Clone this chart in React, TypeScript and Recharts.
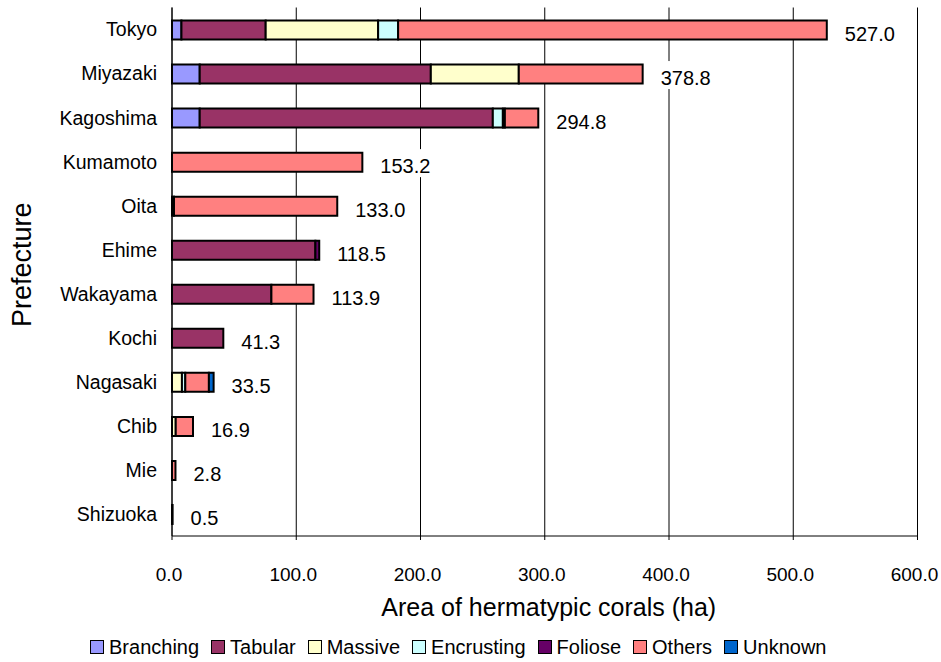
import React from "react";
import { Bar, BarChart, CartesianGrid, Label, LabelList, Legend, XAxis, YAxis } from "recharts";

// prefectures, top to bottom
const prefectures = ["Tokyo", "Miyazaki", "Kagoshima", "Kumamoto", "Oita", "Ehime", "Wakayama", "Kochi", "Nagasaki", "Chib", "Mie", "Shizuoka"];

// area (ha) by coral growth form
const branching = [7.6, 22.3, 22.3, 0, 0, 0, 0, 0, 0, 0, 0, 0];
const tabular = [67.8, 186.0, 235.9, 0, 0, 115.4, 80.0, 41.3, 0, 0, 0, 0];
const massive = [90.5, 70.8, 0, 0, 1.6, 0, 0, 0, 8.0, 3.0, 0, 0];
const encrusting = [16.1, 0, 8.1, 0, 0, 0, 0, 0, 2.7, 0, 0, 0];
const foliose = [0, 0, 1.6, 0, 0, 3.1, 0, 0, 0, 0, 0, 0];
const others = [345.0, 99.7, 26.9, 153.2, 131.4, 0, 33.9, 0, 19.0, 13.9, 2.8, 0.5];
const unknown = [0, 0, 0, 0, 0, 0, 0, 0, 3.8, 0, 0, 0];

// totals printed next to each bar
const totals = [527.0, 378.8, 294.8, 153.2, 133.0, 118.5, 113.9, 41.3, 33.5, 16.9, 2.8, 0.5];

const xTicks = [0, 100, 200, 300, 400, 500, 600];
// category boundaries for the small tick marks on the vertical axis
const boundaryTicks = [0, 1, 2, 3, 4, 5, 6, 7, 8, 9, 10, 11, 12];

const SERIES = [
  { key: "branching", name: "Branching", color: "#9999FF", values: branching },
  { key: "tabular", name: "Tabular", color: "#993366", values: tabular },
  { key: "massive", name: "Massive", color: "#FFFFCC", values: massive },
  { key: "encrusting", name: "Encrusting", color: "#CCFFFF", values: encrusting },
  { key: "foliose", name: "Foliose", color: "#660066", values: foliose },
  { key: "others", name: "Others", color: "#FF8080", values: others },
  { key: "unknown", name: "Unknown", color: "#0066CC", values: unknown },
];

const FONT = "'Liberation Sans', Arial, sans-serif";

const data = prefectures.map((name, i) => {
  const row: any = { name };
  SERIES.forEach((s) => (row[s.key] = s.values[i]));
  return row;
});

// which series is the outermost (last non-zero) segment of each row
const lastKey = prefectures.map((_, i) => {
  let k = SERIES[0].key;
  SERIES.forEach((s) => {
    if (s.values[i] > 0) k = s.key;
  });
  return k;
});

const makeTotalLabel = (seriesKey: string) => (props: any) => {
  const i = prefectures.indexOf(props.value);
  if (i < 0 || lastKey[i] !== seriesKey) return null;
  const vb = props.viewBox || props;
  const end = vb.x + vb.width;
  const cy = vb.y + vb.height / 2;
  const text = totals[i].toFixed(1);
  const w = text.length * 11 + 10;
  const left = end + 18;
  return (
    <g key={`lbl-${i}`}>
      <rect x={left - 5} y={cy - 13} width={w} height={28} fill="#fff" />
      <text x={left} y={cy + 11} fontSize={20} fontFamily={FONT} fill="#000">
        {text}
      </text>
    </g>
  );
};

const YTitle = (props: any) => {
  const vb = props.viewBox;
  const cx = 22;
  const cy = vb.y + vb.height / 2 - 7;
  return (
    <text
      x={cx}
      y={cy}
      transform={`rotate(-90, ${cx}, ${cy})`}
      textAnchor="middle"
      dominantBaseline="central"
      fontSize={27}
      fontFamily={FONT}
      fill="#000"
    >
      Prefecture
    </text>
  );
};

const CustomLegend = () => (
  <div
    style={{
      display: "flex",
      justifyContent: "center",
      alignItems: "center",
      fontFamily: FONT,
      fontSize: 20,
      paddingLeft: 11,
      paddingTop: 6,
      height: 30,
    }}
  >
    {SERIES.map((s) => (
      <div key={s.key} style={{ display: "flex", alignItems: "center", marginRight: 12 }}>
        <span
          style={{
            display: "inline-block",
            width: 12,
            height: 12,
            background: s.color,
            border: "1.5px solid #000",
            marginRight: 5,
          }}
        />
        <span>{s.name}</span>
      </div>
    ))}
  </div>
);

export default function App() {
  return (
    <div style={{ position: "absolute", left: 0, top: 0, background: "#fff" }}>
      <BarChart
        width={941}
        height={662}
        data={data}
        layout="vertical"
        margin={{ top: 7.5, right: 23.5, bottom: 0, left: 0 }}
        barSize={19}
      >
        <CartesianGrid horizontal={false} stroke="#000" strokeWidth={1} />
        <XAxis
          type="number"
          domain={[0, 600]}
          ticks={xTicks}
          tickFormatter={(v: number) => v.toFixed(1)}
          axisLine={{ stroke: "#000" }}
          tickLine={{ stroke: "#000" }}
          tickSize={4}
          tickMargin={28}
          height={90}
          tick={{ fontSize: 19, fontFamily: FONT, fill: "#000", dx: -3 }}
        >
          <Label
            value="Area of hermatypic corals (ha)"
            position="insideBottom"
            offset={10}
            dx={4}
            style={{ fontSize: 25, fontFamily: FONT, fill: "#000" }}
          />
        </XAxis>
        <YAxis
          type="category"
          dataKey="name"
          width={172}
          axisLine={{ stroke: "#000" }}
          tickLine={false}
          tickSize={6}
          tickMargin={9}
          interval={0}
          tick={{ fontSize: 19.5, fontFamily: FONT, fill: "#000" }}
        >
          <Label content={<YTitle />} />
        </YAxis>
        <YAxis
          yAxisId="bounds"
          type="number"
          domain={[0, 12]}
          ticks={boundaryTicks}
          interval={0}
          mirror
          width={0}
          axisLine={false}
          tickLine={{ stroke: "#000" }}
          tickSize={5}
          tick={() => <g />}
        />
        <Legend verticalAlign="bottom" height={36} content={<CustomLegend />} />
        {SERIES.map((s) => (
          <Bar
            key={s.key}
            dataKey={s.key}
            name={s.name}
            stackId="a"
            fill={s.color}
            stroke="#000"
            strokeWidth={2}
            isAnimationActive={false}
          >
            <LabelList dataKey="name" content={makeTotalLabel(s.key)} />
          </Bar>
        ))}
      </BarChart>
    </div>
  );
}
